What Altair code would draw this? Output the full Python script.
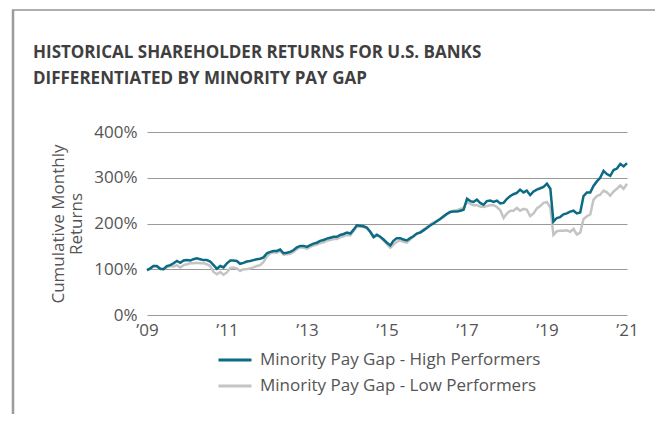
import altair as alt
import pandas as pd

# ---------------- data ----------------
months = pd.date_range("2009-01-01", "2021-01-01", freq="MS")  # monthly, 145 points

high = [
    98, 102, 107, 107, 101, 100, 107, 109, 113, 118,
    114, 119, 120, 119, 122, 124, 122, 120, 120, 117,
    109, 101, 107, 104, 113, 119, 119, 118, 112, 114,
    117, 118, 120, 122, 123, 126, 135, 138, 140, 140,
    143, 135, 136, 138, 142, 148, 151, 151, 149, 153,
    156, 158, 162, 164, 167, 169, 171, 171, 175, 177,
    180, 178, 186, 196, 195, 194, 191, 182, 170, 175,
    171, 165, 158, 152, 162, 168, 168, 165, 163, 168,
    172, 178, 180, 185, 190, 196, 200, 205, 210, 216,
    221, 225, 226, 226, 228, 230, 254, 249, 247, 252,
    245, 241, 249, 250, 247, 250, 244, 245, 254, 260,
    264, 267, 274, 268, 272, 262, 270, 274, 277, 280,
    287, 276, 204, 212, 214, 220, 222, 226, 228, 222,
    224, 260, 268, 268, 282, 292, 300, 315, 308, 304,
    317, 320, 330, 325, 332,
]

low = [
    98, 102, 107, 106, 101, 100, 104, 107, 106, 109,
    104, 109, 111, 113, 113, 114, 113, 113, 111, 107,
    94, 89, 94, 88, 93, 103, 104, 102, 96, 100,
    100, 102, 104, 107, 109, 116, 128, 135, 137, 136,
    140, 132, 133, 134, 138, 144, 148, 147, 145, 149,
    152, 154, 157, 159, 162, 164, 166, 166, 170, 172,
    175, 174, 183, 193, 193, 192, 190, 183, 172, 177,
    170, 163, 155, 147, 154, 160, 163, 160, 158, 165,
    172, 178, 182, 187, 192, 198, 202, 206, 210, 214,
    220, 226, 228, 229, 232, 234, 247, 243, 240, 240,
    237, 236, 238, 240, 240, 236, 229, 212, 222, 228,
    228, 234, 228, 232, 230, 216, 222, 233, 238, 245,
    247, 235, 175, 183, 184, 184, 185, 182, 188, 176,
    180, 210, 216, 220, 252, 260, 263, 272, 268, 261,
    270, 276, 283, 276, 287,
]

series_names = ["Minority Pay Gap - High Performers", "Minority Pay Gap - Low Performers"]
series_colors = ["#0c6b84", "#c4c4c4"]
y_ticks = [0, 100, 200, 300, 400]
x_tick_years = [2009, 2011, 2013, 2015, 2017, 2019, 2021]
title_lines = ["HISTORICAL SHAREHOLDER RETURNS FOR U.S. BANKS",
               "DIFFERENTIATED BY MINORITY PAY GAP"]
y_title = ["Cumulative Monthly", "Returns"]

df = pd.DataFrame({
    "date": list(months) * 2,
    "value": high + low,
    "series": [series_names[0]] * len(high) + [series_names[1]] * len(low),
})

FONT = "Open Sans"
TEXT_COLOR = "#555555"

x_enc = alt.X(
    "date:T",
    scale=alt.Scale(domain=[alt.DateTime(year=2009, month=1, date=1),
                            alt.DateTime(year=2021, month=1, date=1)], nice=False),
    axis=alt.Axis(
        values=[alt.DateTime(year=y, month=1, date=1) for y in x_tick_years],
        labelExpr="'\u2019' + timeFormat(datum.value, '%y')",
        title=None, grid=False, domain=False, ticks=False,
        labelFontSize=17, labelFont=FONT, labelColor=TEXT_COLOR,
        labelPadding=7, labelFlush=False,
    ),
)
y_enc = alt.Y(
    "value:Q",
    scale=alt.Scale(domain=[0, 400], nice=False),
    axis=alt.Axis(
        values=y_ticks, labelExpr="datum.value + '%'",
        title=y_title, titleFontSize=17, titleFont=FONT, titleFontWeight="normal",
        titleColor=TEXT_COLOR, titlePadding=8, titleLineHeight=18,
        grid=True, gridColor="#9a9a9a", gridWidth=1, domain=False, ticks=False,
        labelFontSize=17, labelFont=FONT, labelColor=TEXT_COLOR, labelPadding=10,
    ),
)
color_enc = alt.Color(
    "series:N",
    scale=alt.Scale(domain=series_names, range=series_colors),
    legend=alt.Legend(
        title=None, orient="none", legendX=70, legendY=210, direction="vertical",
        symbolType="stroke", symbolSize=1089, symbolStrokeWidth=3,
        labelFontSize=17, labelFont=FONT, labelColor=TEXT_COLOR,
        labelOffset=7, rowPadding=-10, padding=0, labelLimit=400,
    ),
)

base = alt.Chart(df)
low_line = base.transform_filter(alt.datum.series == series_names[1]).mark_line(
    strokeWidth=2.5).encode(x=x_enc, y=y_enc, color=color_enc)
high_line = base.transform_filter(alt.datum.series == series_names[0]).mark_line(
    strokeWidth=2.5).encode(x=x_enc, y=y_enc, color=color_enc)

one = pd.DataFrame({"k": [0]})
frame_top = alt.Chart(one).mark_rule(color="#5e5e5e", strokeWidth=1).encode(
    x=alt.value(-135), x2=alt.value(520), y=alt.value(-122))
frame_left = alt.Chart(one).mark_rule(color="#9c9c9c", strokeWidth=2.5).encode(
    x=alt.value(-134), y=alt.value(-122), y2=alt.value(290))
title = alt.Chart(one).mark_text(
    align="left", baseline="middle", font="Open Sans", fontSize=17,
    fontWeight="bold", color="#3f3f3f", lineHeight=26,
).encode(x=alt.value(-114), y=alt.value(-79), text=alt.value(title_lines))

chart = alt.layer(frame_top, frame_left, title, low_line, high_line).properties(
    width=480, height=183,
    padding={"left": 139, "top": 124, "right": 28, "bottom": 99},
    autosize=alt.AutoSizeParams(type="none"),
).configure_view(stroke=None)

chart.save("out.html", embed_options={"renderer": "svg", "actions": False})
